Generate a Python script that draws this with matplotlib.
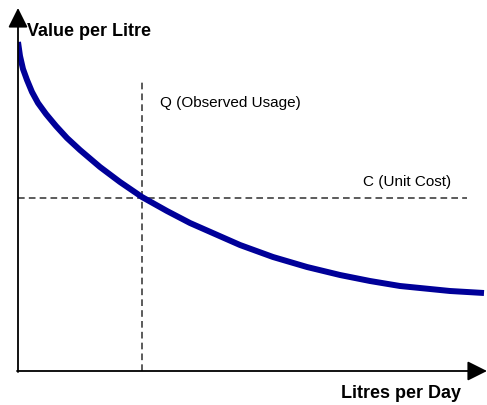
import matplotlib
matplotlib.use("Agg")
import matplotlib.pyplot as plt

plt.rcParams['font.family'] = ['Liberation Sans', 'DejaVu Sans']

# demand curve (litres per day vs value per litre), arbitrary units
litres = [0, 2, 5, 9, 14, 20, 28, 38, 49, 62, 82, 102, 124, 149, 172,
          197, 222, 255, 289, 322, 352, 382, 432, 466]
value = [329, 315, 302, 291, 279, 268, 257, 245, 233, 221, 204, 189, 174,
         160, 148, 137, 126, 114, 104, 96, 90, 85, 80, 78]

q_usage = 124      # observed usage
c_cost = 173       # unit cost
q_top = 291
c_right = 449

fig = plt.figure(figsize=(4.87, 4.05), dpi=100)
ax = fig.add_axes([18 / 487, 34 / 405, 469 / 487, 363 / 405])
ax.set_xlim(0, 469)
ax.set_ylim(0, 363)
ax.axis('off')

# axes with arrow heads
arrow = dict(arrowstyle='-|>,head_length=0.6,head_width=0.3',
             color='black', lw=1.3, mutation_scale=20, shrinkA=0, shrinkB=0)
ax.annotate('', xy=(0, 363), xytext=(0, -1), arrowprops=arrow,
            annotation_clip=False)
ax.annotate('', xy=(469, 0), xytext=(-1, 0), arrowprops=arrow,
            annotation_clip=False)

# reference lines
ax.plot([q_usage, q_usage], [0, q_top], color='#404040', lw=1.2,
        dashes=(4, 2.5))
ax.plot([0, c_right], [c_cost, c_cost], color='#404040', lw=1.2,
        dashes=(4, 2.5))

# curve
ax.plot(litres, value, color='#000099', lw=4.3, solid_capstyle='butt',
        solid_joinstyle='round')

ax.text(9, 339, 'Value per Litre', fontsize=13, fontweight='bold',
        va='center', ha='left')
ax.text(443, -22, 'Litres per Day', fontsize=13, fontweight='bold',
        va='center', ha='right', clip_on=False)
ax.text(142, 268, 'Q (Observed Usage)', fontsize=11, va='center', ha='left')
ax.text(345, 189, 'C (Unit Cost)', fontsize=11, va='center', ha='left')

fig.savefig('out.png', dpi=100)
